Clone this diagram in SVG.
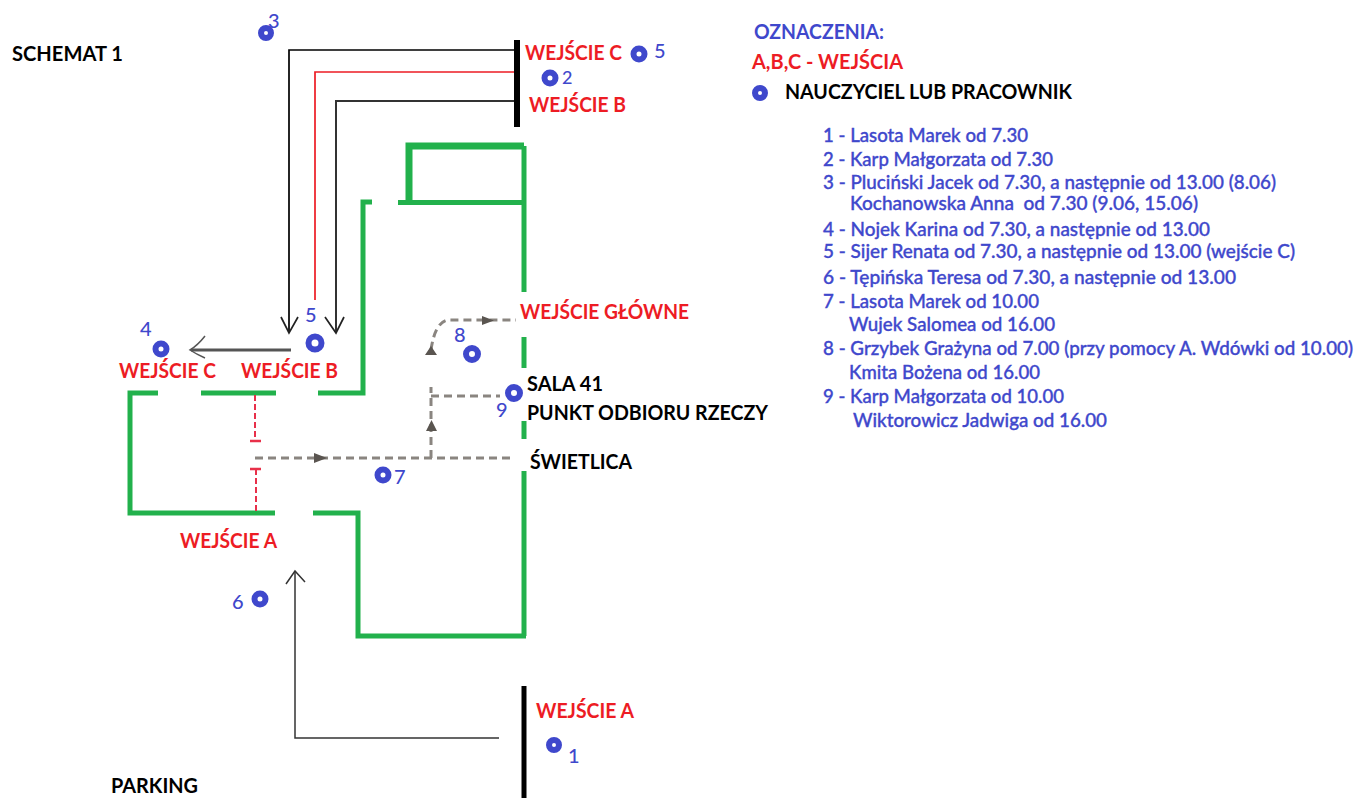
<svg xmlns="http://www.w3.org/2000/svg" width="1357" height="798" viewBox="0 0 1357 798">
<style>
text{font-family:"Lato","Open Sans","Liberation Sans",sans-serif;font-weight:500}
.r{fill:#ed1c24;font-size:20px;font-weight:700}
.k{fill:#000;font-size:20px;font-weight:700}
.b{fill:#3f48cc;font-size:19px;stroke:#3f48cc;stroke-width:.35}
.n{fill:#3f48cc;font-size:20px}
.g{fill:none;stroke:#22b14c;stroke-width:5}
.d{fill:none;stroke:#8a8580;stroke-width:3;stroke-dasharray:8 5}
.rd{fill:none;stroke:#e8304a;stroke-width:2;stroke-dasharray:6 3}
.dot{fill:none;stroke:#3f48cc;stroke-width:6}
</style>
<rect width="1357" height="798" fill="#fff"/>
<g id="building">
<path class="g" d="M409 203V146H524" style="stroke-width:7"/>
<path class="g" d="M398 202.500H524M524 146V292M524 337V368M524 421V439M524 471V636M526 636H358V513H313M275 513H130V393H158M201 393H276M318 393H363V202H372"/>
</g>
<g id="connectors">
<path d="M517 40V127" stroke="#000" stroke-width="6" fill="none"/>
<path d="M524 686V798" stroke="#000" stroke-width="5" fill="none"/>
<path d="M514 50H289V333" stroke="#000" stroke-width="1.700" fill="none"/>
<path d="M514 72H315V300" stroke="#ed1c24" stroke-width="1.700" fill="none"/>
<path d="M514 101H336V333" stroke="#333" stroke-width="2" fill="none"/>
<path d="M281 317L289 333L298 317M325 317L336 333L344 317" stroke="#222" stroke-width="1.700" fill="none"/>
<path d="M291 350H191" stroke="#555" stroke-width="3" fill="none"/>
<path d="M205 336Q198 345 190 350Q196 354 205 358" stroke="#555" stroke-width="1.500" fill="none"/>
<path d="M499 738H295V571" stroke="#333" stroke-width="1.500" fill="none"/>
<path d="M286 584L295 571L305 582" stroke="#333" stroke-width="1.500" fill="none"/>
<path class="rd" d="M255 395V441M256 511V470"/>
<path d="M250 441H261M250 469H261" stroke="#e8304a" stroke-width="2.500" fill="none"/>
<path class="d" d="M255 458H514M431 458V387M431 396H500M431 350Q435 322 448 320H516"/>
<path d="M314 453L327 458L314 463ZM426 431H437L431.500 420ZM425 355H437L431 346ZM482 316L494 320.500L482 325Z" fill="#5a5550"/>
</g>
<g id="dot1"><circle class="dot" cx="554" cy="745" r="5"/><text class="n" x="568" y="763">1</text></g>
<g id="dot2"><circle class="dot" cx="550" cy="78" r="5.500"/><text class="n" x="562" y="84" style="font-size:18px">2</text></g>
<g id="dot3"><circle class="dot" cx="266" cy="33" r="5"/><text class="n" x="268" y="28">3</text></g>
<g id="dot4"><circle class="dot" cx="161" cy="349" r="5.500"/><text class="n" x="140" y="336">4</text></g>
<g id="dot5a"><circle class="dot" cx="315" cy="343" r="6.500"/><text class="n" x="305" y="322">5</text></g>
<g id="dot5b"><circle class="dot" cx="639" cy="54" r="5.500"/><text class="n" x="654" y="58">5</text></g>
<g id="dot6"><circle class="dot" cx="260" cy="599" r="5.500"/><text class="n" x="232" y="609">6</text></g>
<g id="dot7"><circle class="dot" cx="383" cy="475" r="5.500"/><text class="n" x="394" y="484">7</text></g>
<g id="dot8"><circle class="dot" cx="472" cy="354" r="6"/><text class="n" x="454" y="342">8</text></g>
<g id="dot9"><circle class="dot" cx="514" cy="393" r="6"/><text class="n" x="496" y="417">9</text></g>
<g id="labels">
<text class="k" x="12" y="61" textLength="111" lengthAdjust="spacingAndGlyphs">SCHEMAT 1</text>
<text class="k" x="111" y="793" textLength="87" lengthAdjust="spacingAndGlyphs">PARKING</text>
<text class="r" x="525" y="60" textLength="97" lengthAdjust="spacingAndGlyphs">WEJŚCIE C</text>
<text class="r" x="529" y="112" textLength="97" lengthAdjust="spacingAndGlyphs">WEJŚCIE B</text>
<text class="r" x="119" y="378" textLength="97" lengthAdjust="spacingAndGlyphs">WEJŚCIE C</text>
<text class="r" x="241" y="378" textLength="97" lengthAdjust="spacingAndGlyphs">WEJŚCIE B</text>
<text class="r" x="180" y="548" textLength="97" lengthAdjust="spacingAndGlyphs">WEJŚCIE A</text>
<text class="r" x="536" y="718" textLength="98" lengthAdjust="spacingAndGlyphs">WEJŚCIE A</text>
<text class="r" x="520" y="319" textLength="169" lengthAdjust="spacingAndGlyphs">WEJŚCIE GŁÓWNE</text>
<text class="k" x="527" y="391" textLength="76" lengthAdjust="spacingAndGlyphs">SALA 41</text>
<text class="k" x="527" y="420" textLength="241" lengthAdjust="spacingAndGlyphs">PUNKT ODBIORU RZECZY</text>
<text class="k" x="530" y="469" textLength="102" lengthAdjust="spacingAndGlyphs">ŚWIETLICA</text>
</g>
<g id="legend">
<text x="754" y="39" style="font-size:21px;font-weight:700;fill:#3f48cc" textLength="130" lengthAdjust="spacingAndGlyphs">OZNACZENIA:</text>
<text x="752" y="69" class="r" style="font-size:21px" textLength="151" lengthAdjust="spacingAndGlyphs">A,B,C - WEJŚCIA</text>
<circle class="dot" cx="760" cy="93" r="5"/>
<text x="785" y="99" class="k" textLength="287" lengthAdjust="spacingAndGlyphs">NAUCZYCIEL LUB PRACOWNIK</text>
<text class="b" x="823" y="142" textLength="205" lengthAdjust="spacingAndGlyphs">1 - Lasota Marek od 7.30</text>
<text class="b" x="823" y="166" textLength="230" lengthAdjust="spacingAndGlyphs">2 - Karp Małgorzata od 7.30</text>
<text class="b" x="823" y="189" textLength="453" lengthAdjust="spacingAndGlyphs">3 - Pluciński Jacek od 7.30, a następnie od 13.00 (8.06)</text>
<text class="b" x="850" y="210" textLength="348" lengthAdjust="spacingAndGlyphs" xml:space="preserve">Kochanowska Anna  od 7.30 (9.06, 15.06)</text>
<text class="b" x="823" y="236" textLength="387" lengthAdjust="spacingAndGlyphs">4 - Nojek Karina od 7.30, a następnie od 13.00</text>
<text class="b" x="823" y="258" textLength="472" lengthAdjust="spacingAndGlyphs">5 - Sijer Renata od 7.30, a następnie od 13.00 (wejście C)</text>
<text class="b" x="823" y="284" textLength="413" lengthAdjust="spacingAndGlyphs">6 - Tępińska Teresa od 7.30, a następnie od 13.00</text>
<text class="b" x="823" y="308" textLength="216" lengthAdjust="spacingAndGlyphs">7 - Lasota Marek od 10.00</text>
<text class="b" x="849" y="331" textLength="206" lengthAdjust="spacingAndGlyphs">Wujek Salomea od 16.00</text>
<text class="b" x="823" y="355" textLength="530" lengthAdjust="spacingAndGlyphs">8 - Grzybek Grażyna od 7.00 (przy pomocy A. Wdówki od 10.00)</text>
<text class="b" x="849" y="379" textLength="191" lengthAdjust="spacingAndGlyphs">Kmita Bożena od 16.00</text>
<text class="b" x="823" y="403" textLength="241" lengthAdjust="spacingAndGlyphs">9 - Karp Małgorzata od 10.00</text>
<text class="b" x="853" y="427" textLength="254" lengthAdjust="spacingAndGlyphs">Wiktorowicz Jadwiga od 16.00</text>
</g>
</svg>
